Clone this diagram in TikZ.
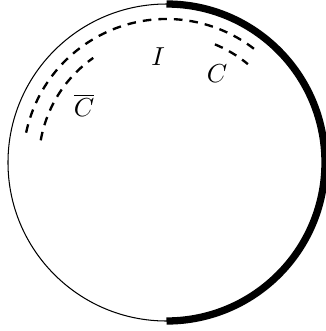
\documentclass[tikz,border=0pt]{standalone}
\begin{document}
\begin{tikzpicture}[x=0.3846pt,y=0.3846pt,
  thinarc/.style={line width=0.4pt},
  thickarc/.style={line width=2.8pt},
  dasharc/.style={line width=0.9pt,dash pattern=on 3.3pt off 2.7pt},
  lab/.style={inner sep=0pt}]
\useasboundingbox (-166.5,-168.5) rectangle (159.5,162.5);
% full circle
\draw[thinarc] (0,0) circle[radius=60.96pt];
% thick right half
\draw[thickarc] (90:60.96pt) arc[start angle=90,end angle=-90,radius=60.96pt];
% outer dashed arc
\draw[dasharc] (168:55.19pt) arc[start angle=168,end angle=50.4,radius=55.19pt];
% inner dashed arcs
\draw[dasharc] (170:49.11pt) arc[start angle=170,end angle=125,radius=49.11pt];
\draw[dasharc] (67.7:49.11pt) arc[start angle=67.7,end angle=50.4,radius=49.11pt];
% labels
\node[lab] (I) at (-8.5,105.5) {$I$};
\node[lab] (C) at (50.5,88.5) {$C$};
\node[lab] (Cbar) at (-82.5,57.5) {$\overline{C}$};
\end{tikzpicture}
\end{document}
